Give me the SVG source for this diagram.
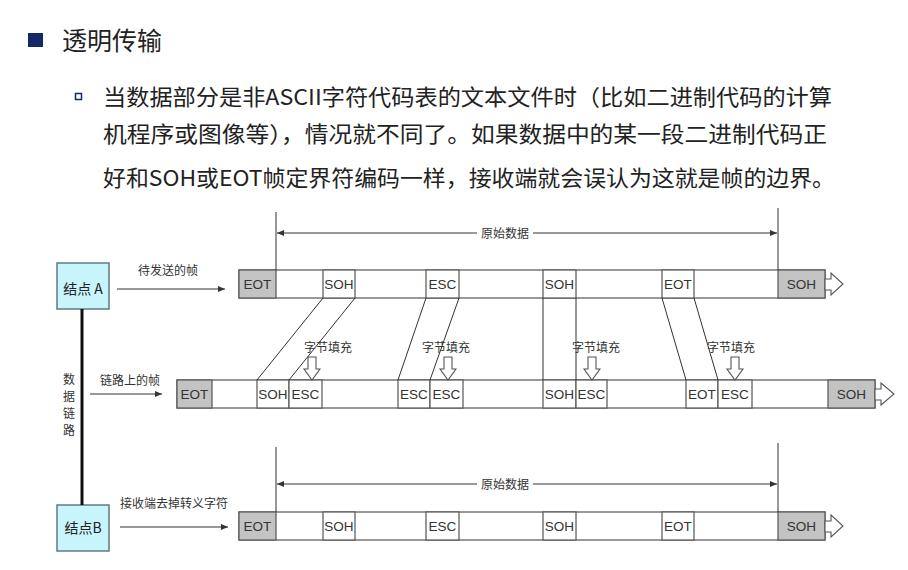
<svg xmlns="http://www.w3.org/2000/svg" width="908" height="570" viewBox="0 0 908 570">
<style>
.t{font-family:"Noto Sans CJK SC","Liberation Sans",sans-serif;fill:#222}
.body{font-size:22px}
.lbl{font-size:12px;fill:#333}
.cell{font-family:"Liberation Sans","Noto Sans CJK SC",sans-serif;font-size:13.5px;fill:#333;text-anchor:middle}
.frame{fill:#fff;stroke:#555;stroke-width:1.2}
.gray{fill:#c3c3c3;stroke:#555;stroke-width:1.2}
.ln{stroke:#333;stroke-width:1;fill:none}
.node{fill:#c8f4fb;stroke:#5d7b82;stroke-width:1.5}
.hollow{fill:#fff;stroke:#555;stroke-width:1.1}
.vt{font-size:12px;fill:#333;text-anchor:middle}
</style>
<defs>
<marker id="ah" markerWidth="8" markerHeight="8" refX="7" refY="4" orient="auto" markerUnits="userSpaceOnUse">
<path d="M0,1 L7,4 L0,7 Z" fill="#333"/>
</marker>
</defs>
<rect width="908" height="570" fill="#fff"/>

<g id="title">
<rect x="28" y="33" width="15" height="14" fill="#15286a"/>
<text class="t" x="62" y="50" font-size="25">透明传输</text>
</g>
<g id="body">
<rect x="75.5" y="93.5" width="6" height="6" fill="none" stroke="#15286a" stroke-width="1.5"/>
<text class="t body" x="103" y="105" textLength="729" lengthAdjust="spacingAndGlyphs">当数据部分是非ASCII字符代码表的文本文件时（比如二进制代码的计算</text>
<text class="t body" x="103" y="142" textLength="724" lengthAdjust="spacingAndGlyphs">机程序或图像等），情况就不同了。如果数据中的某一段二进制代码正</text>
<text class="t body" x="103" y="186" textLength="732" lengthAdjust="spacingAndGlyphs">好和SOH或EOT帧定界符编码一样，接收端就会误认为这就是帧的边界。</text>
</g>

<g id="nodeA">
<rect class="node" x="57" y="263" width="52" height="46"/>
<text class="t" x="83" y="294" font-size="14" text-anchor="middle" fill="#333">结点 A</text>
</g>
<g id="nodeB">
<rect class="node" x="57" y="505" width="52" height="46"/>
<text class="t" x="83" y="533" font-size="14" text-anchor="middle" fill="#333">结点B</text>
</g>
<g id="link">
<line x1="82" y1="309" x2="82" y2="505" stroke="#111" stroke-width="3"/>
<text class="t vt" x="69" y="384">数</text>
<text class="t vt" x="69" y="401">据</text>
<text class="t vt" x="69" y="418">链</text>
<text class="t vt" x="69" y="435">路</text>
</g>

<g id="frame1">
<rect class="frame" x="239" y="270" width="586" height="28"/>
<rect class="gray" x="239" y="270" width="37" height="28"/>
<rect class="gray" x="778" y="270" width="47" height="28"/>
<rect class="frame" x="323" y="270" width="32" height="28"/>
<rect class="frame" x="426" y="270" width="33" height="28"/>
<rect class="frame" x="543" y="270" width="33" height="28"/>
<rect class="frame" x="662" y="270" width="32" height="28"/>
<text class="cell" x="257.5" y="289">EOT</text>
<text class="cell" x="339" y="289">SOH</text>
<text class="cell" x="442.5" y="289">ESC</text>
<text class="cell" x="559.5" y="289">SOH</text>
<text class="cell" x="678" y="289">EOT</text>
<text class="cell" x="801.5" y="289">SOH</text>
<polygon class="hollow" points="825,279 831,279 831,273 843,284 831,295 831,290 825,290"/>
</g>

<g id="frame2">
<rect class="frame" x="177" y="380" width="698" height="28"/>
<rect class="gray" x="177" y="380" width="35" height="28"/>
<rect class="gray" x="828" y="380" width="47" height="28"/>
<rect class="frame" x="257" y="380" width="32" height="28"/>
<rect class="frame" x="289" y="380" width="33" height="28"/>
<rect class="frame" x="398" y="380" width="32" height="28"/>
<rect class="frame" x="430" y="380" width="33" height="28"/>
<rect class="frame" x="543" y="380" width="33" height="28"/>
<rect class="frame" x="576" y="380" width="31" height="28"/>
<rect class="frame" x="686" y="380" width="32" height="28"/>
<rect class="frame" x="718" y="380" width="34" height="28"/>
<text class="cell" x="194.5" y="399">EOT</text>
<text class="cell" x="273" y="399">SOH</text>
<text class="cell" x="305.5" y="399">ESC</text>
<text class="cell" x="414" y="399">ESC</text>
<text class="cell" x="446.5" y="399">ESC</text>
<text class="cell" x="559.5" y="399">SOH</text>
<text class="cell" x="591.5" y="399">ESC</text>
<text class="cell" x="702" y="399">EOT</text>
<text class="cell" x="735" y="399">ESC</text>
<text class="cell" x="851.5" y="399">SOH</text>
<polygon class="hollow" points="875,389 881,389 881,383 894,394 881,405 881,400 875,400"/>
</g>

<g id="frame3">
<rect class="frame" x="239" y="512" width="586" height="28"/>
<rect class="gray" x="239" y="512" width="37" height="28"/>
<rect class="gray" x="778" y="512" width="47" height="28"/>
<rect class="frame" x="323" y="512" width="32" height="28"/>
<rect class="frame" x="426" y="512" width="33" height="28"/>
<rect class="frame" x="543" y="512" width="33" height="28"/>
<rect class="frame" x="662" y="512" width="32" height="28"/>
<text class="cell" x="257.5" y="531">EOT</text>
<text class="cell" x="339" y="531">SOH</text>
<text class="cell" x="442.5" y="531">ESC</text>
<text class="cell" x="559.5" y="531">SOH</text>
<text class="cell" x="678" y="531">EOT</text>
<text class="cell" x="801.5" y="531">SOH</text>
<polygon class="hollow" points="825,521 831,521 831,515 843,526 831,537 831,532 825,532"/>
</g>

<g id="stuffing">
<text class="t lbl" x="328" y="352" font-size="11" text-anchor="middle">字节填充</text>
<text class="t lbl" x="446" y="352" font-size="11" text-anchor="middle">字节填充</text>
<text class="t lbl" x="596" y="352" font-size="11" text-anchor="middle">字节填充</text>
<text class="t lbl" x="731" y="352" font-size="11" text-anchor="middle">字节填充</text>
<polygon class="hollow" points="308,357 316,357 316,369 320,369 312,380 304,369 308,369"/>
<polygon class="hollow" points="444,357 452,357 452,369 456,369 448,380 440,369 444,369"/>
<polygon class="hollow" points="588,357 596,357 596,369 600,369 592,380 584,369 588,369"/>
<polygon class="hollow" points="731,357 739,357 739,369 743,369 735,380 727,369 731,369"/>
</g>

<g id="connectors">
<line class="ln" x1="117" y1="289" x2="225" y2="289" marker-end="url(#ah)"/>
<text class="t lbl" x="168" y="275" text-anchor="middle">待发送的帧</text>
<line class="ln" x1="90" y1="394" x2="162" y2="394" marker-end="url(#ah)"/>
<text class="t lbl" x="130" y="385" text-anchor="middle">链路上的帧</text>
<line class="ln" x1="120" y1="527" x2="228" y2="527" marker-end="url(#ah)"/>
<text class="t lbl" x="174" y="508" text-anchor="middle">接收端去掉转义字符</text>

<line class="ln" x1="276" y1="212" x2="276" y2="270"/>
<line class="ln" x1="778" y1="208" x2="778" y2="270"/>
<line class="ln" x1="477" y1="233" x2="277" y2="233" marker-end="url(#ah)"/>
<line class="ln" x1="533" y1="233" x2="777" y2="233" marker-end="url(#ah)"/>
<text class="t lbl" x="505" y="238" text-anchor="middle">原始数据</text>

<line class="ln" x1="276" y1="447" x2="276" y2="512"/>
<line class="ln" x1="778" y1="443" x2="778" y2="512"/>
<line class="ln" x1="477" y1="484" x2="277" y2="484" marker-end="url(#ah)"/>
<line class="ln" x1="533" y1="484" x2="777" y2="484" marker-end="url(#ah)"/>
<text class="t lbl" x="505" y="489" text-anchor="middle">原始数据</text>

<line class="ln" x1="323" y1="298" x2="257" y2="380"/>
<line class="ln" x1="355" y1="298" x2="289" y2="380"/>
<line class="ln" x1="426" y1="298" x2="398" y2="380"/>
<line class="ln" x1="459" y1="298" x2="430" y2="380"/>
<line class="ln" x1="543" y1="298" x2="543" y2="380"/>
<line class="ln" x1="576" y1="298" x2="576" y2="380"/>
<line class="ln" x1="662" y1="298" x2="686" y2="380"/>
<line class="ln" x1="694" y1="298" x2="718" y2="380"/>
</g>
</svg>
